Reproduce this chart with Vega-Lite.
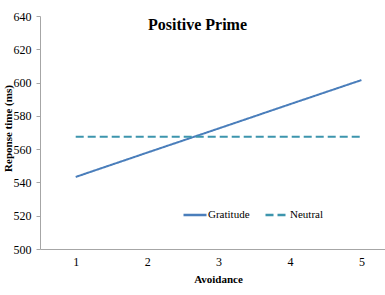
{
  "$schema": "https://vega.github.io/schema/vega-lite/v6.json",
  "width": 345,
  "height": 233,
  "autosize": {"type": "none"},
  "padding": {"left": 40, "top": 16, "right": 0, "bottom": 46},
  "background": "white",
  "title": {
    "text": "Positive Prime",
    "font": "Liberation Serif",
    "fontSize": 16,
    "fontWeight": "bold",
    "color": "#000000",
    "anchor": "middle",
    "frame": "group",
    "baseline": "alphabetic",
    "orient": "top",
    "offset": 0,
    "dx": -15,
    "dy": 36
  },
  "data": {
    "values": [
      {"avoidance": 1, "prime": "Gratitude", "rt": 543.3},
      {"avoidance": 2, "prime": "Gratitude", "rt": 557.9},
      {"avoidance": 3, "prime": "Gratitude", "rt": 572.4},
      {"avoidance": 4, "prime": "Gratitude", "rt": 587.0},
      {"avoidance": 5, "prime": "Gratitude", "rt": 601.5},
      {"avoidance": 1, "prime": "Neutral", "rt": 567.5},
      {"avoidance": 2, "prime": "Neutral", "rt": 567.5},
      {"avoidance": 3, "prime": "Neutral", "rt": 567.5},
      {"avoidance": 4, "prime": "Neutral", "rt": 567.5},
      {"avoidance": 5, "prime": "Neutral", "rt": 567.5}
    ]
  },
  "mark": {"type": "line", "strokeWidth": 2},
  "encoding": {
    "x": {
      "field": "avoidance",
      "type": "quantitative",
      "scale": {"domain": [0.5, 5.33], "nice": false, "zero": false},
      "axis": {
        "title": "Avoidance",
        "values": [1, 1.5, 2, 2.5, 3, 3.5, 4, 4.5, 5],
        "format": "d",
        "labelExpr": "datum.value % 1 == 0 ? datum.label : ''",
        "tickOpacity": {"condition": {"test": "datum.value % 1 == 0", "value": 0}, "value": 1},
        "grid": false,
        "domainColor": "#a6a6a6",
        "tickColor": "#a6a6a6",
        "tickSize": 4,
        "labelPadding": 3,
        "labelFont": "Liberation Serif",
        "labelFontSize": 12,
        "labelColor": "#000000",
        "titleFont": "Liberation Serif",
        "titleFontSize": 11,
        "titleFontWeight": "bold",
        "titleColor": "#000000",
        "titleX": 178,
        "titleY": 33,
        "titleBaseline": "alphabetic"
      }
    },
    "y": {
      "field": "rt",
      "type": "quantitative",
      "scale": {"domain": [500, 640], "nice": false, "zero": false},
      "axis": {
        "title": "Reponse time (ms)",
        "values": [500, 520, 540, 560, 580, 600, 620, 640],
        "grid": false,
        "domainColor": "#a6a6a6",
        "tickColor": "#a6a6a6",
        "tickSize": 4,
        "labelPadding": 5,
        "labelFont": "Liberation Serif",
        "labelFontSize": 12,
        "labelColor": "#000000",
        "titleFont": "Liberation Serif",
        "titleFontSize": 11,
        "titleFontWeight": "bold",
        "titleColor": "#000000",
        "titleX": -29,
        "titleY": 112,
        "titleAngle": -90,
        "titleBaseline": "alphabetic"
      }
    },
    "color": {
      "field": "prime",
      "type": "nominal",
      "scale": {"domain": ["Gratitude", "Neutral"], "range": ["#4a7ebb", "#3d95ad"]},
      "legend": {
        "title": null,
        "orient": "none",
        "direction": "horizontal",
        "legendX": 142,
        "legendY": 186,
        "symbolType": "stroke",
        "symbolSize": 529,
        "symbolStrokeWidth": 2.5,
        "labelFont": "Liberation Serif",
        "labelFontSize": 11,
        "labelColor": "#000000",
        "labelOffset": 0,
        "columnPadding": 10
      }
    },
    "strokeDash": {
      "field": "prime",
      "type": "nominal",
      "scale": {"domain": ["Gratitude", "Neutral"], "range": [[1, 0], [8, 4]]},
      "legend": null
    }
  },
  "config": {"view": {"stroke": null}}
}
